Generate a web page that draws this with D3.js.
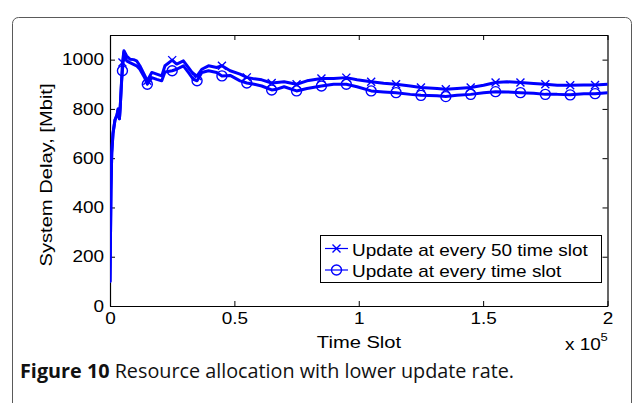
<!DOCTYPE html>
<html>
<head>
<meta charset="utf-8">
<script src="https://cdn.jsdelivr.net/npm/d3@7"></script>
<style>
  body { margin: 0; background: #fff; }
  svg { display: block; }
</style>
</head>
<body>
<svg id="chart" width="634" height="403"></svg>
<script>
// System delay [Mbit] over time slots, update every 50 slots
const slotsEvery50 = [0, 400, 700, 1200, 2000, 2800, 3300, 3800, 4100, 4600, 5000, 5600, 6700, 8000, 9500, 10700, 12000, 14000, 15000, 16800, 18800, 20800, 22100, 25000, 26800, 29500, 31500, 33500, 35000, 36900, 39600, 42900, 45000, 48300, 52300, 55000, 58000, 61000, 65000, 67100, 70000, 75000, 79200, 85000, 89900, 95000, 99300, 105000, 110000, 115000, 120700, 125000, 131500, 135000, 139500, 145000, 150200, 155000, 159600, 165000, 170300, 175000, 179800, 185000, 190500, 195000, 200000];
const delayEvery50 = [100, 470, 620, 700, 755, 775, 800, 760, 805, 905, 988, 1036, 1015, 1002, 1000, 995, 975, 935, 914, 948, 941, 934, 975, 998, 982, 995, 968, 941, 934, 961, 975, 968, 975, 955, 941, 928, 922, 918, 905, 907, 910, 900, 914, 923, 923, 927, 918, 910, 904, 900, 893, 887, 883, 880, 883, 887, 896, 907, 910, 907, 903, 900, 896, 896, 897, 897, 900];

// System delay [Mbit] over time slots, update every slot
const slotsEvery1 = [0, 400, 700, 1200, 2000, 2800, 3300, 3800, 4100, 4600, 5000, 5600, 6700, 8000, 10700, 12000, 14000, 15000, 16800, 18800, 20800, 22100, 25000, 26800, 29500, 31500, 33500, 35000, 36900, 39600, 42900, 45000, 48300, 52300, 55000, 58000, 61000, 65000, 67100, 70000, 75000, 79200, 85000, 89900, 95000, 99300, 105000, 110000, 115000, 120700, 125000, 131500, 135000, 139500, 145000, 150200, 155000, 159600, 165000, 170300, 175000, 179800, 185000, 190500, 195000, 200000];
const delayEvery1 = [100, 470, 620, 700, 755, 775, 800, 760, 805, 900, 955, 1030, 995, 988, 975, 961, 925, 900, 927, 920, 914, 950, 955, 961, 975, 948, 920, 914, 948, 955, 948, 934, 936, 914, 905, 900, 893, 877, 880, 890, 873, 883, 893, 900, 900, 890, 873, 869, 866, 859, 855, 853, 850, 855, 859, 866, 870, 869, 866, 864, 859, 859, 857, 862, 862, 866];

// Slots carrying a marker symbol
const markerSlots = [5000, 15000, 25000, 35000, 45000, 55000, 65000, 75000, 85000, 95000, 105000, 115000, 125000, 135000, 145000, 155000, 165000, 175000, 185000, 195000];

const xTicks = [0, 50000, 100000, 150000, 200000];
const yTicks = [0, 200, 400, 600, 800, 1000];
const seriesNames = ["Update at every 50 time slot", "Update at every time slot"];

const BLUE = "#0000ff";
const FONT = "'Liberation Sans', Arial, Helvetica, sans-serif";

const svg = d3.select("#chart");

// Horizontal widening of the plot lettering: the first legend entry spans 236px at 16px
const probe = svg.append("text").style("font-family", FONT).style("font-size", "16px").text(seriesNames[0]);
const SX = 236 / probe.node().getComputedTextLength();
probe.remove();

// Rounded outer figure frame
svg.append("rect")
  .attr("x", 12.5).attr("y", 17.5)
  .attr("width", 619).attr("height", 420)
  .attr("rx", 6).attr("ry", 6)
  .attr("fill", "none").attr("stroke", "#5a5a5a").attr("stroke-width", 1);

const x = d3.scaleLinear().domain([0, 200000]).range([110, 607.5]);
const y = d3.scaleLinear().domain([0, 1100]).range([306, 35]);

const fmtX = d => d3.format("~g")(d / 1e5);
const fmtY = d3.format("d");

function styleAxis(g) {
  g.select(".domain").attr("stroke", "#000").attr("stroke-width", 1.2);
  g.selectAll(".tick line").attr("stroke", "#000").attr("stroke-width", 1);
  g.selectAll(".tick text")
    .attr("fill", "#000")
    .style("font-family", FONT)
    .style("font-size", "16px");
}
function widenTickText(g) {
  g.selectAll(".tick text").each(function () {
    const t = d3.select(this);
    const xx = +t.attr("x") || 0;
    t.attr("x", xx / SX).attr("transform", `scale(${SX},1)`);
  });
}

// Bottom axis with labels, ticks pointing inward
const gB = svg.append("g").attr("transform", `translate(0,${y(0)})`)
  .call(d3.axisBottom(x).tickValues(xTicks).tickFormat(fmtX).tickSizeInner(-5).tickSizeOuter(0).tickPadding(7));
styleAxis(gB); widenTickText(gB);

// Left axis
const gL = svg.append("g").attr("transform", `translate(${x(0)},0)`)
  .call(d3.axisLeft(y).tickValues(yTicks).tickFormat(fmtY).tickSizeInner(-5).tickSizeOuter(0).tickPadding(6));
styleAxis(gL); widenTickText(gL);

// Top and right box edges with mirrored ticks
const gT = svg.append("g").attr("transform", `translate(0,${y(1100)})`)
  .call(d3.axisTop(x).tickValues(xTicks).tickFormat("").tickSizeInner(-5).tickSizeOuter(0));
styleAxis(gT);
const gR = svg.append("g").attr("transform", `translate(${x(200000)},0)`)
  .call(d3.axisRight(y).tickValues(yTicks).tickFormat("").tickSizeInner(-5).tickSizeOuter(0));
styleAxis(gR);

// Series
const series = [
  { name: seriesNames[0], slots: slotsEvery50, vals: delayEvery50, marker: "x" },
  { name: seriesNames[1], slots: slotsEvery1, vals: delayEvery1, marker: "o" }
];

const line = d3.line().x(d => x(d[0])).y(d => y(d[1]));
svg.append("clipPath").attr("id", "plotclip")
  .append("rect").attr("x", x(0)).attr("y", y(1100)).attr("width", x(200000) - x(0)).attr("height", y(0) - y(1100));

function drawMarker(g, kind, cx, cy) {
  if (kind === "x") {
    const s = 4;
    g.append("path")
      .attr("d", `M${cx - s},${cy - s}L${cx + s},${cy + s}M${cx - s},${cy + s}L${cx + s},${cy - s}`)
      .attr("stroke", BLUE).attr("stroke-width", 1.4).attr("fill", "none");
  } else {
    g.append("circle").attr("cx", cx).attr("cy", cy).attr("r", 5)
      .attr("stroke", BLUE).attr("stroke-width", 1.4).attr("fill", "none");
  }
}

const plot = svg.append("g").attr("clip-path", "url(#plotclip)");
series.forEach(s => {
  const pts = s.slots.map((t, i) => [t, s.vals[i]]);
  plot.append("path").datum(pts)
    .attr("d", line)
    .attr("fill", "none").attr("stroke", BLUE).attr("stroke-width", 3)
    .attr("stroke-linejoin", "round").attr("stroke-linecap", "round");
  const mg = plot.append("g");
  pts.filter(p => markerSlots.includes(p[0]))
    .forEach(p => drawMarker(mg, s.marker, x(p[0]), y(p[1])));
});

// Widened text label, optionally rotated
function label(txt, px, py, size, anchor, rotate) {
  const g = svg.append("g").attr("transform", `translate(${px},${py})` + (rotate ? ` rotate(${rotate})` : ""));
  g.append("text")
    .attr("transform", `scale(${SX},1)`)
    .attr("text-anchor", anchor)
    .style("font-family", FONT).style("font-size", size + "px")
    .attr("fill", "#000")
    .text(txt);
  return g;
}

// Axis titles
label("Time Slot", 359, 348, 17, "middle");
label("System Delay, [Mbit]", 52, 175, 17, "middle", -90);
label("x 10", 565, 350, 16, "start");
label("5", 600.5, 340.5, 11, "start");

// Legend
const lg = svg.append("g");
lg.append("rect").attr("x", 320.5).attr("y", 235.5).attr("width", 281).attr("height", 47)
  .attr("fill", "#fff").attr("stroke", "#000").attr("stroke-width", 1);
const legendRows = [248.5, 270];
series.forEach((s, i) => {
  const ly = legendRows[i];
  lg.append("line").attr("x1", 325).attr("x2", 348).attr("y1", ly).attr("y2", ly)
    .attr("stroke", BLUE).attr("stroke-width", 1.2);
  drawMarker(lg, s.marker, 336.5, ly);
  label(s.name, 352, ly + 7.3, 16, "start");
});

// Figure caption
const cap = svg.append("text").attr("x", 20).attr("y", 378)
  .style("font-family", "'Open Sans', 'Noto Sans', sans-serif").style("font-size", "19.8px").attr("fill", "#111");
cap.append("tspan").style("font-weight", "bold").text("Figure 10");
cap.append("tspan").text(" Resource allocation with lower update rate.");
</script>
</body>
</html>
